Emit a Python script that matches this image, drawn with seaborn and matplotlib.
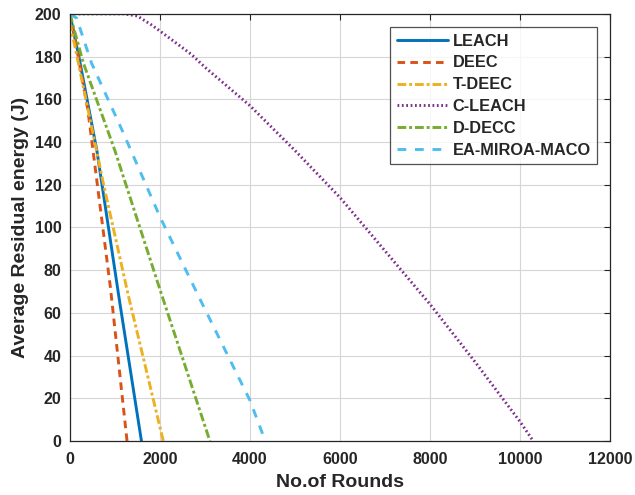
import numpy as np
import pandas as pd
import matplotlib
matplotlib.use('Agg')
import matplotlib.pyplot as plt
import seaborn as sns

# 各协议的轮数 / 平均剩余能量
protocols = ['LEACH', 'DEEC', 'T-DEEC', 'C-LEACH', 'D-DECC', 'EA-MIROA-MACO']

leach_x = [0, 200, 600, 1100, 1590]
leach_y = [200, 180, 136, 66, 0]

deec_x = [0, 100, 400, 900, 1270]
deec_y = [200, 190, 155, 72, 0]

tdeec_x = [0, 100, 750, 1300, 2075]
tdeec_y = [196, 186, 120, 68, 0]

cleach_x = [0, 1200, 1500, 1800, 2000, 2700, 3000, 4000, 5000, 6000, 7000, 8000, 9000, 10000, 10290]
cleach_y = [200, 200, 199, 195, 192, 181, 175, 157, 136, 114, 89, 64, 37, 9, 0]

dDecc_x = [0, 300, 1000, 2000, 3110]
dDecc_y = [200, 177, 136, 71, 0]

ea_x = [0, 150, 480, 1150, 2000, 2900, 4000, 4340]
ea_y = [200, 198, 177, 146, 105, 66, 19, 0]

xs = [leach_x, deec_x, tdeec_x, cleach_x, dDecc_x, ea_x]
ys = [leach_y, deec_y, tdeec_y, cleach_y, dDecc_y, ea_y]

colors = ['#0072BD', '#D95319', '#EDB120', '#7E2F8E', '#77AC30', '#4DBEEE']
dash_list = ['', (2.6, 1.8), (3, 1, 1, 1), (0.6, 0.9), (3, 1, 1, 1), (3, 3)]

df = pd.concat([
    pd.DataFrame({'rounds': x, 'energy': y, 'protocol': p})
    for p, x, y in zip(protocols, xs, ys)
], ignore_index=True)

sns.set_style('white')
plt.rcParams['font.family'] = ['Liberation Sans', 'DejaVu Sans']
plt.rcParams['font.weight'] = 'bold'

fig = plt.figure(figsize=(6.35, 4.95), dpi=100)
ax = fig.add_axes([0.110, 0.109, 0.851, 0.863])

sns.lineplot(
    data=df, x='rounds', y='energy',
    hue='protocol', style='protocol',
    hue_order=protocols, style_order=protocols,
    palette=dict(zip(protocols, colors)),
    dashes=dict(zip(protocols, dash_list)),
    estimator=None, sort=False, linewidth=2.1, ax=ax
)

ax.set_xlim(0, 12000)
ax.set_ylim(0, 200)
ax.set_xticks(np.arange(0, 12001, 2000))
ax.set_yticks(np.arange(0, 201, 20))
ax.grid(True, color='#d6d6d6', linewidth=0.8)
ax.tick_params(direction='in', top=True, right=True, labelsize=11.5,
               length=4, colors='#262626')
ax.tick_params(axis='x', pad=8)
ax.tick_params(axis='y', pad=6)
for lab in ax.get_xticklabels() + ax.get_yticklabels():
    lab.set_fontweight('bold')
for s in ax.spines.values():
    s.set_visible(True)
    s.set_color('#262626')
    s.set_linewidth(0.9)

ax.set_xlabel('No.of Rounds', fontsize=14, fontweight='bold', color='#262626', labelpad=5)
ax.set_ylabel('Average Residual energy (J)', fontsize=14, fontweight='bold', color='#262626', labelpad=4)

leg = ax.legend(loc='upper right', fontsize=11.8, frameon=True, fancybox=False,
                edgecolor='#262626', handlelength=3.1, handletextpad=0.3,
                borderaxespad=0.8, labelspacing=0.42, borderpad=0.4)
leg.get_frame().set_linewidth(0.9)
for t in leg.get_texts():
    t.set_fontweight('bold')

fig.savefig('out.png', dpi=100)
